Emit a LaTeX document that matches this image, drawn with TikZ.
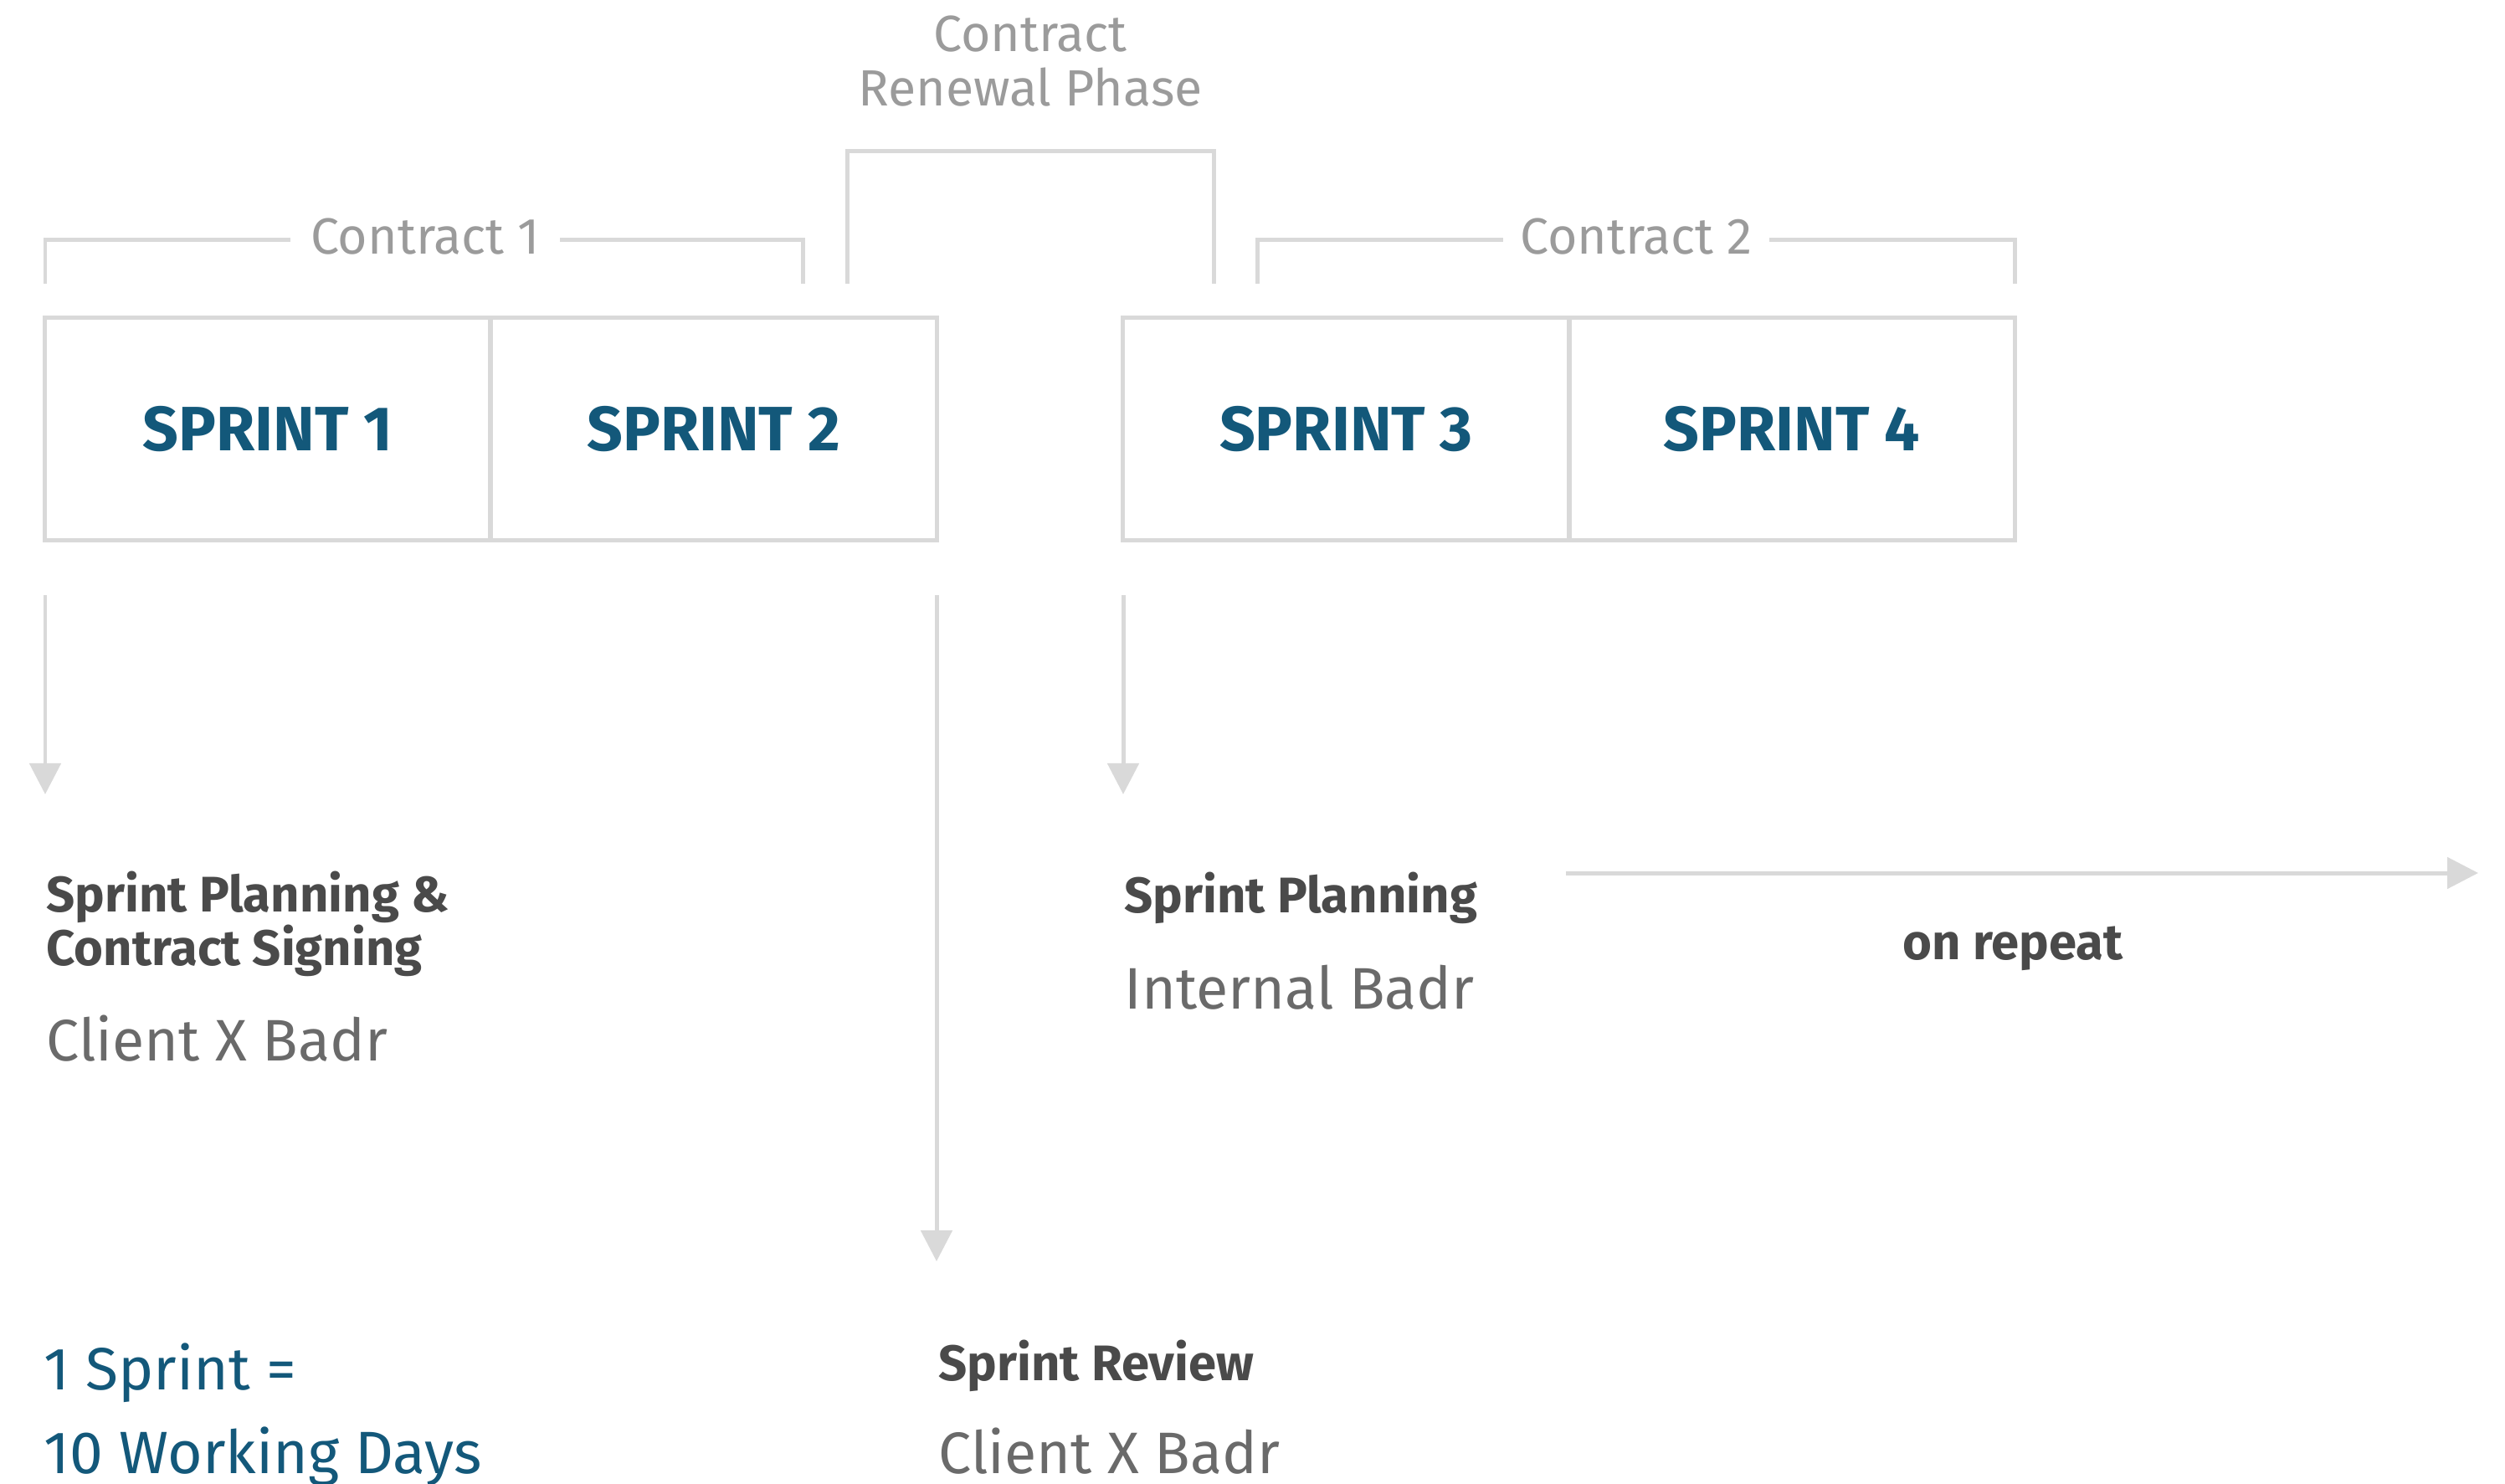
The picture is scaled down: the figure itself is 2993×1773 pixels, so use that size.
\documentclass[tikz,border=0pt]{standalone}
\usepackage{fontspec}
\setmainfont{Fira Sans}
\usetikzlibrary{arrows.meta}

\definecolor{sprintblue}{HTML}{13587A}
\definecolor{linegray}{HTML}{D9D9D9}
\definecolor{labelgray}{HTML}{9B9B9B}
\definecolor{headgray}{HTML}{4A4A4A}
\definecolor{textgray}{HTML}{6A6A6A}

\begin{document}
\begin{tikzpicture}[x=0.01cm, y=-0.01cm,
    sprintbox/.style={draw=linegray, line width=1.42pt, minimum width=5.33cm, minimum height=2.65cm,
        inner sep=0pt, text=sprintblue, font=\fontsize{21.3}{25}\selectfont\bfseries},
    bracket/.style={draw=linegray, line width=1.42pt},
    phase/.style={text=labelgray, font=\fontsize{17.3}{20}\selectfont, inner sep=0pt},
    head/.style={anchor=base west, inner sep=0pt, text=headgray, font=\fontsize{17}{19}\selectfont\bfseries},
    who/.style={anchor=base west, inner sep=0pt, text=textgray, font=\fontsize{19.9}{22}\selectfont},
    flow/.style={draw=linegray, line width=1.42pt, -{Triangle[width=0.37cm,length=0.37cm]}}]

    \useasboundingbox (0,0) rectangle (2993,1773);

    \foreach \n/\x in {1/320,2/852.5,3/1608.5,4/2141}
        \node[sprintbox] (s\n) at (\x,512.5) {SPRINT \n};

    % contract brackets
    \draw[bracket] (54,339) -- (54,287) -- (959,287) -- (959,339);
    \node[phase, fill=white, inner xsep=0.24cm, anchor=base] (c1) at (508,303.6) {Contract 1};
    \draw[bracket] (1502,339) -- (1502,287) -- (2407,287) -- (2407,339);
    \node[phase, fill=white, inner xsep=0.2cm, anchor=base] (c2) at (1955,303.6) {Contract 2};
    \draw[bracket] (1012,339) -- (1012,181) -- (1450,181) -- (1450,339);
    \node[phase, anchor=base] (renew1) at (1231,62) {Contract};
    \node[phase, anchor=base] (renew2) at (1231,127) {Renewal Phase};

    \coordinate (a1s) at (54,711);   \coordinate (a1e) at (54,949);
    \coordinate (a2s) at (1119,711); \coordinate (a2e) at (1119,1507);
    \coordinate (a3s) at (1342,711); \coordinate (a3e) at (1342,949);
    \coordinate (rs) at (1871,1043); \coordinate (re) at (2961,1043);
    \draw[flow] (a1s) -- (a1e);
    \draw[flow] (a2s) -- (a2e);
    \draw[flow] (a3s) -- (a3e);
    \draw[flow] (rs) -- (re);

    \node[head] (plan1a) at (55,1089) {Sprint Planning \&};
    \node[head] (plan1b) at (55,1153) {Contract Signing};
    \node[who] (who1) at (55,1267) {Client X Badr};

    \node[head] (plan2) at (1343,1090) {Sprint Planning};
    \node[who] (who2) at (1343,1205) {Internal Badr};
    \node[head, anchor=base] (rep) at (2405,1146) {on repeat};

    \node[head] (review) at (1121,1649) {Sprint Review};
    \node[who] (who3) at (1121,1760) {Client X Badr};

    \node[who, text=sprintblue, font=\fontsize{20.3}{22}\selectfont] (note1) at (52,1660) {1 Sprint =};
    \node[who, text=sprintblue, font=\fontsize{20.3}{22}\selectfont] (note2) at (52,1760) {10 Working Days};

\end{tikzpicture}
\end{document}
